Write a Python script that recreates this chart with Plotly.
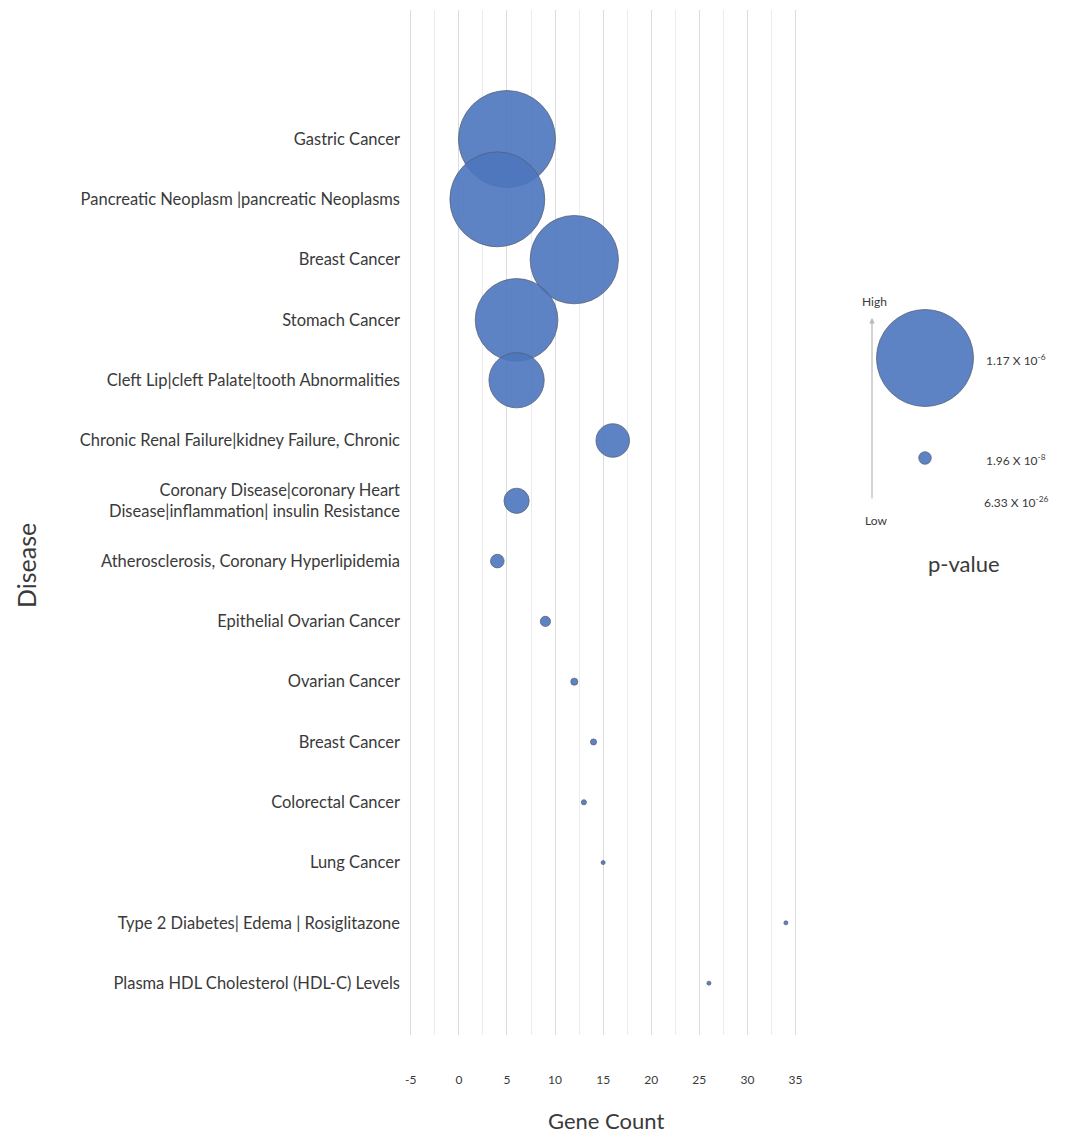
import math
import plotly.graph_objects as go

# Enriched diseases (top to bottom), gene counts and enrichment p-values
diseases = [
    "Gastric Cancer",
    "Pancreatic Neoplasm |pancreatic Neoplasms",
    "Breast Cancer",
    "Stomach Cancer",
    "Cleft Lip|cleft Palate|tooth Abnormalities",
    "Chronic Renal Failure|kidney Failure, Chronic",
    "Coronary Disease|coronary Heart<br>Disease|inflammation| insulin Resistance",
    "Atherosclerosis, Coronary Hyperlipidemia",
    "Epithelial Ovarian Cancer",
    "Ovarian Cancer",
    "Breast Cancer",
    "Colorectal Cancer",
    "Lung Cancer",
    "Type 2 Diabetes| Edema | Rosiglitazone",
    "Plasma HDL Cholesterol (HDL-C) Levels",
]
gene_count = [5, 4, 12, 6, 6, 16, 6, 4, 9, 12, 14, 13, 15, 34, 26]
p_value = [
    1.17e-6, 1.12e-6, 0.97e-6, 0.85e-6, 0.38e-6, 0.14e-6, 7.9e-8,
    2.3e-8, 1.3e-8, 6.2e-9, 4.6e-9, 3.2e-9, 2.0e-9, 1.1e-9, 6.33e-26,
]

x_tick_vals = [-5, 0, 5, 10, 15, 20, 25, 30, 35]
x_tick_text = ["-5", "0", "5", "10", "15", "20", "25", "30", "35"]

# Reference p-values shown in the size key
legend_p = [1.17e-6, 1.96e-8, 6.33e-26]

W, H = 1080, 1133
FONT = "Lato"
TEXT = "#3a3a3a"
BUBBLE = "rgba(76,118,190,0.9)"
EDGE = "rgba(85,95,115,0.75)"

max_diam = 97
sizeref = 2.0 * max(p_value) / (max_diam ** 2)


def px_x(px):
    return px / W


def px_y(py):
    return 1 - py / H


def sci_label(v):
    exp = int(math.floor(math.log10(v)))
    mant = v / 10 ** exp
    return f"{mant:.2f} X 10<sup>{exp}</sup>"


y_pos = list(range(len(diseases)))

fig = go.Figure()

fig.add_trace(go.Scatter(
    x=gene_count,
    y=y_pos,
    mode="markers",
    marker=dict(
        size=p_value,
        sizemode="area",
        sizeref=sizeref,
        sizemin=2,
        color=BUBBLE,
        opacity=1,
        line=dict(color=EDGE, width=1),
    ),
    text=diseases,
    hovertemplate="%{text}<br>Gene Count: %{x}<br>p = %{marker.size:.2e}<extra></extra>",
    cliponaxis=False,
    showlegend=False,
))

# Size key on its own small axes
fig.add_trace(go.Scatter(
    x=[0.5] * len(legend_p),
    y=list(range(len(legend_p))),
    xaxis="x2",
    yaxis="y2",
    mode="markers",
    marker=dict(
        size=legend_p,
        sizemode="area",
        sizeref=sizeref,
        sizemin=0,
        color=BUBBLE,
        opacity=1,
        line=dict(color=EDGE, width=1),
    ),
    hoverinfo="skip",
    cliponaxis=False,
    showlegend=False,
))


def note(text, x, y, size, **kw):
    return dict(text=text, x=px_x(x), y=px_y(y), xref="paper", yref="paper",
                xanchor="center", yanchor="middle", showarrow=False,
                font=dict(family=FONT, size=size, color=TEXT), **kw)


annotations = [
    note("Disease", 26, 566, 25, textangle=-90),
    note("Gene Count", 606, 1120, 22),
    note("p-value", 964, 563, 22),
    note("High", 874, 301, 12),
    note("Low", 876, 520, 12),
    dict(text="", x=px_x(872), y=px_y(318), xref="paper", yref="paper",
         showarrow=True, ax=0, ay=182, arrowhead=2, arrowsize=0.9,
         arrowwidth=1.2, arrowcolor="#b8b8b8"),
]
for lbl_y, v in zip([360, 460, 502], legend_p):
    annotations.append(note(sci_label(v), 1016, lbl_y, 12))

fig.update_layout(
    width=W,
    height=H,
    margin=dict(l=0, r=0, t=0, b=0),
    paper_bgcolor="white",
    plot_bgcolor="white",
    font=dict(family=FONT, color=TEXT),
    xaxis=dict(
        domain=[px_x(405), px_x(808)],
        range=[-5.6, 36.3],
        tickvals=x_tick_vals,
        ticktext=x_tick_text,
        tickfont=dict(family=FONT, size=12, color=TEXT),
        ticks="",
        ticklabelstandoff=36,
        showgrid=True,
        gridcolor="#dcdcdc",
        gridwidth=1,
        minor=dict(dtick=2.5, tick0=0, showgrid=True, gridcolor="#ececec", gridwidth=1),
        zeroline=False,
        showline=False,
        fixedrange=True,
    ),
    yaxis=dict(
        domain=[1 - 1035 / H, 1 - 10 / H],
        range=[14.86, -2.14],
        tickvals=y_pos,
        ticktext=diseases,
        tickfont=dict(family=FONT, size=16.5, color=TEXT),
        ticks="",
        ticklabelstandoff=4,
        showgrid=False,
        zeroline=False,
        showline=False,
        fixedrange=True,
    ),
    xaxis2=dict(
        domain=[px_x(880), px_x(970)],
        range=[0, 1],
        anchor="y2",
        visible=False,
        fixedrange=True,
    ),
    yaxis2=dict(
        domain=[1 - 560 / H, 1 - 300 / H],
        range=[2.02, -0.58],
        anchor="x2",
        visible=False,
        fixedrange=True,
    ),
    annotations=annotations,
)

fig.write_html("out.html")
